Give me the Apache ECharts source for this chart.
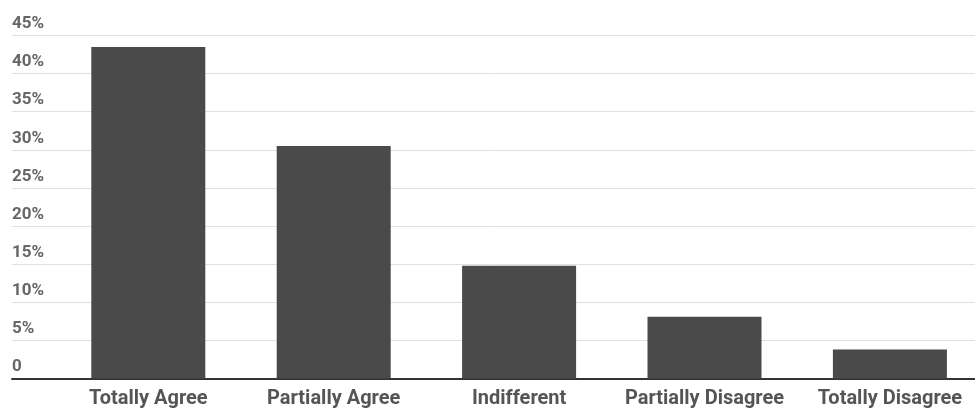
<!DOCTYPE html>
<html>
<head>
<meta charset="utf-8">
<script src="https://cdn.jsdelivr.net/npm/echarts@6/dist/echarts.min.js"></script>
<style>html,body{margin:0;padding:0;background:#fff}#c{width:975px;height:409px}</style>
</head>
<body>
<div id="c"></div>
<script>
const categories = ['Totally Agree', 'Partially Agree', 'Indifferent', 'Partially Disagree', 'Totally Disagree'];
const values = [43.5, 30.5, 14.8, 8.1, 3.8];
const yMin = 0, yMax = 45, yStep = 5;

const chart = echarts.init(document.getElementById('c'), null, {renderer: 'canvas'});
chart.setOption({
  animation: false,
  grid: [
    {left: 12, right: 0, top: 35.5, bottom: 30.5, outerBoundsMode: 'none'},
    {left: 55.6, width: 927, top: 35.5, bottom: 30.5, outerBoundsMode: 'none'}
  ],
  xAxis: [
    {gridIndex: 0, type: 'category', data: [''], axisLine: {show: true, lineStyle: {color: '#333', width: 2}},
     axisTick: {show: false}, axisLabel: {show: false}},
    {gridIndex: 1, type: 'category', data: categories, boundaryGap: true,
     axisLine: {show: false}, axisTick: {show: false},
     axisLabel: {color: '#555', fontFamily: 'Roboto', fontWeight: 'bold', fontSize: 20, margin: 10, interval: 0}}
  ],
  yAxis: [
    {gridIndex: 0, type: 'value', min: yMin, max: yMax, interval: yStep,
     axisLine: {show: false}, axisTick: {show: false},
     splitLine: {lineStyle: {color: '#e0e0e0', width: 1}},
     axisLabel: {inside: true, align: 'left', verticalAlign: 'bottom', margin: 0, padding: [0, 0, 3, 0],
       color: '#666', fontFamily: 'Roboto', fontWeight: 'bold', fontSize: 17,
       formatter: v => v === 0 ? '0' : v + '%'}},
    {gridIndex: 1, type: 'value', min: yMin, max: yMax, interval: yStep, show: false}
  ],
  series: [{
    type: 'bar', xAxisIndex: 1, yAxisIndex: 1, data: values, barWidth: 114,
    itemStyle: {color: '#4a4a4a'}, z: 1
  }]
});
</script>
</body>
</html>
